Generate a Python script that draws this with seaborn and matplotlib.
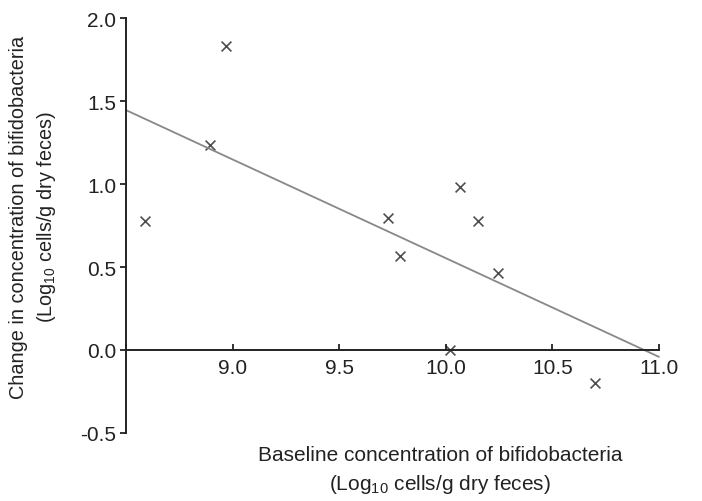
import matplotlib
matplotlib.use("Agg")
import matplotlib.pyplot as plt
import seaborn as sns
import pandas as pd

# baseline (log10 cells/g) vs change after intervention
baseline = [8.59, 8.97, 8.895, 9.73, 9.786, 10.067, 10.152, 10.243, 10.02, 10.70]
change = [0.78, 1.83, 1.235, 0.795, 0.566, 0.98, 0.777, 0.464, 0.0, -0.20]

xticks = [8.5, 9.0, 9.5, 10.0, 10.5, 11.0]
xticklabels = ["", "9.0", "9.5", "10.0", "10.5", "11.0"]
yticks = [-0.5, 0.0, 0.5, 1.0, 1.5, 2.0]
yticklabels = ["-0.5", "0.0", "0.5", "1.0", "1.5", "2.0"]

df = pd.DataFrame({"baseline": baseline, "change": change})

sns.set_style("white")
plt.rcParams["font.family"] = ["Liberation Sans", "DejaVu Sans"]
plt.rcParams["mathtext.fontset"] = "custom"
plt.rcParams["mathtext.rm"] = "Liberation Sans"

fig = plt.figure(figsize=(7.02, 5.02), dpi=100)
ax = fig.add_axes([0.1795, 0.1355, 0.7592, 0.8265])
ax.set_xlim(8.5, 11.0)
ax.set_ylim(-0.5, 2.0)

sns.regplot(data=df, x="baseline", y="change", ax=ax, ci=None, truncate=False,
            marker="x",
            scatter_kws={"color": "#222222", "s": 50, "linewidths": 1.2, "clip_on": False},
            line_kws={"color": "#888888", "lw": 1.3, "clip_on": False})

ax.set_xlim(8.5, 11.0)
ax.set_ylim(-0.5, 2.0)

ax.spines["top"].set_visible(False)
ax.spines["right"].set_visible(False)
ax.spines["bottom"].set_position(("data", 0))
for s in ("left", "bottom"):
    ax.spines[s].set_color("#222222")
    ax.spines[s].set_linewidth(1.4)

ax.set_xticks(xticks)
ax.set_xticklabels(xticklabels)
ax.set_yticks(yticks)
ax.set_yticklabels(yticklabels)
ax.tick_params(axis="x", direction="in", length=4, width=1.3, pad=6,
               labelsize=15, colors="#222222", bottom=True)
ax.tick_params(axis="y", direction="out", length=4, width=1.3, pad=3,
               labelsize=15, colors="#222222", left=True)

ax.set_xlabel("Baseline concentration of bifidobacteria\n(Log$_{10}$ cells/g dry feces)",
              fontsize=15, color="#222222", linespacing=1.45)
ax.xaxis.set_label_coords(0.589, -0.03)
ax.set_ylabel("Change in concentration of bifidobacteria\n(Log$_{10}$ cells/g dry feces)",
              fontsize=14.3, color="#222222", linespacing=1.4)
ax.yaxis.set_label_coords(-0.128, 0.523)

fig.savefig("out.png", dpi=100)
